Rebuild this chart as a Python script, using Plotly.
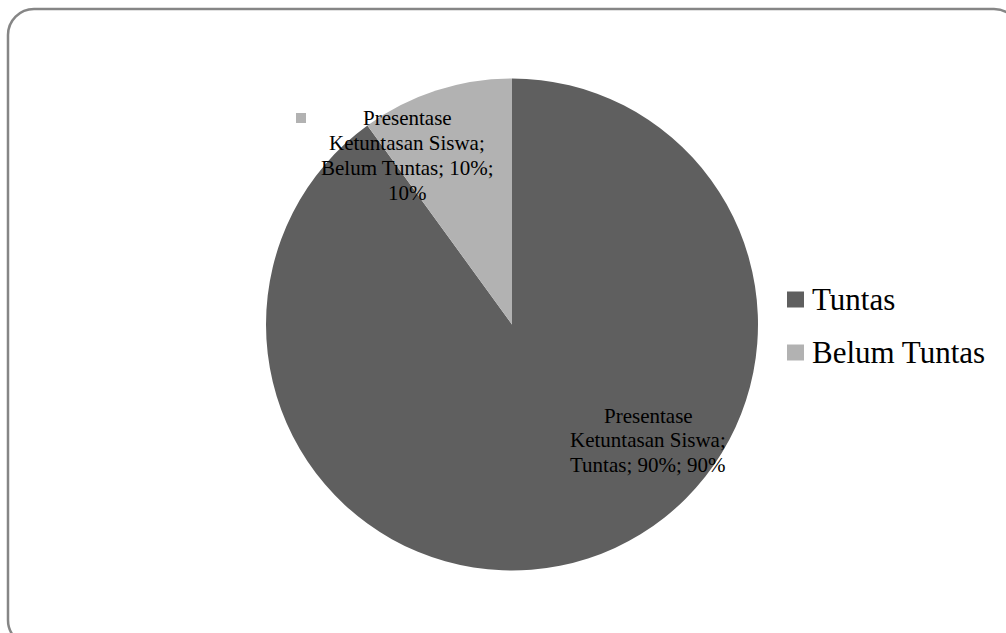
import plotly.graph_objects as go

series_name = "Presentase Ketuntasan Siswa"
categories = ["Tuntas", "Belum Tuntas"]
values = [90, 10]
colors = ["#5f5f5f", "#b2b2b2"]

W, H = 1006, 633


def px(x):
    return x / W


def py(y):
    return 1 - y / H


fig = go.Figure()
fig.add_trace(go.Pie(
    labels=categories,
    values=values,
    sort=False,
    direction="clockwise",
    rotation=0,
    marker=dict(colors=colors, line=dict(width=0)),
    textinfo="none",
    hoverinfo="label+percent",
    showlegend=False,
    domain=dict(x=[px(512 - 246), px(512 + 246)], y=[py(570.5), py(78.5)]),
))

total = sum(values)
pct = [round(v * 100 / total) for v in values]

# data labels, one annotation per line for exact line spacing
lab_font = dict(family="Liberation Serif, Times New Roman, serif", size=21, color="#000000")
t_lines = ["Presentase", "Ketuntasan Siswa;", f"{categories[0]}; {values[0]}%; {pct[0]}%"]
b_lines = ["Presentase", "Ketuntasan Siswa;", f"{categories[1]}; {values[1]}%;", f"{pct[1]}%"]


def add_lines(lines, xc, y0, step):
    for j, s in enumerate(lines):
        fig.add_annotation(x=px(xc), y=py(y0 + j * step), xref="paper", yref="paper", text=s,
                           showarrow=False, font=lab_font, xanchor="center", yanchor="middle")


add_lines(t_lines, 648, 416, 24.5)
add_lines(b_lines, 407, 118, 25)

shapes = []
# small legend key in data label
shapes.append(dict(type="rect", xref="paper", yref="paper",
                   x0=px(296), x1=px(306), y0=py(123), y1=py(113),
                   fillcolor=colors[1], line=dict(width=0)))

# manual legend
leg_font = dict(family="Liberation Serif, Times New Roman, serif", size=31, color="#000000")
for i, (c, col) in enumerate(zip(categories, colors)):
    yc = 299.5 + i * 53
    shapes.append(dict(type="rect", xref="paper", yref="paper",
                       x0=px(787), x1=px(804), y0=py(yc + 8), y1=py(yc - 8),
                       fillcolor=col, line=dict(width=0)))
    fig.add_annotation(x=px(810), y=py(yc), xref="paper", yref="paper", text=c,
                       showarrow=False, font=leg_font, xanchor="left", yanchor="middle")

# rounded border
L, T, R, B, r = 8, 9, 1020, 646, 26
k = 0.5523 * r


def P(x, y):
    return f"{px(x):.5f},{py(y):.5f}"


path = (f"M {P(L + r, T)} L {P(R - r, T)} C {P(R - r + k, T)} {P(R, T + r - k)} {P(R, T + r)} "
        f"L {P(R, B - r)} C {P(R, B - r + k)} {P(R - r + k, B)} {P(R - r, B)} "
        f"L {P(L + r, B)} C {P(L + r - k, B)} {P(L, B - r + k)} {P(L, B - r)} "
        f"L {P(L, T + r)} C {P(L, T + r - k)} {P(L + r - k, T)} {P(L + r, T)} Z")
shapes.append(dict(type="path", xref="paper", yref="paper", path=path,
                   line=dict(color="#868686", width=2.5)))

fig.update_layout(
    width=W, height=H,
    margin=dict(l=0, r=0, t=0, b=0),
    paper_bgcolor="#ffffff",
    plot_bgcolor="#ffffff",
    shapes=shapes,
    showlegend=False,
)

fig.write_html("out.html")
